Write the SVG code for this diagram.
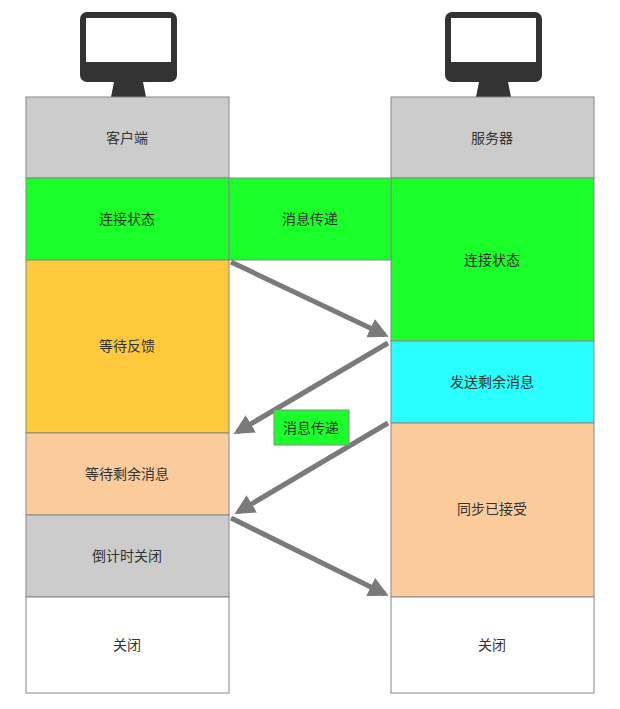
<svg xmlns="http://www.w3.org/2000/svg" width="620" height="709" viewBox="0 0 620 709">
<style>
rect.b{stroke:#888;stroke-width:1}
text{font-family:"Liberation Sans","Noto Sans CJK SC",sans-serif;font-size:14px;fill:#333;text-anchor:middle;dominant-baseline:central}
.ar{stroke:#7a7a7a;stroke-width:5;fill:none;marker-end:url(#m)}
</style>
<defs>
<marker id="m" viewBox="0 0 10 10" refX="8" refY="5" markerWidth="4" markerHeight="4" orient="auto" markerUnits="strokeWidth"><path d="M0,0L10,5L0,10z" fill="#7a7a7a"/></marker>
<g id="mon"><rect x="0" y="0" width="97" height="70" rx="7" fill="#333"/><rect x="6" y="6" width="85" height="44" fill="#fff"/><path d="M34,70H63L66,85H31Z" fill="#333"/></g>
</defs>
<use href="#mon" x="80" y="12"/>
<use href="#mon" x="445" y="12"/>
<g id="client">
<rect class="b" x="26" y="97" width="203" height="81" fill="#cccccc"/><text x="127" y="138">客户端</text>
<rect class="b" x="26" y="178" width="203" height="82" fill="#1aff2a"/><text x="127" y="219">连接状态</text>
<rect class="b" x="26" y="260" width="203" height="173" fill="#ffc83d"/><text x="127" y="346">等待反馈</text>
<rect class="b" x="26" y="433" width="203" height="82" fill="#fbcb9c"/><text x="127" y="474">等待剩余消息</text>
<rect class="b" x="26" y="515" width="203" height="82" fill="#cccccc"/><text x="127" y="556">倒计时关闭</text>
<rect class="b" x="26" y="597" width="203" height="96" fill="#fff"/><text x="127" y="645">关闭</text>
</g>
<g id="server">
<rect class="b" x="391" y="97" width="203" height="81" fill="#cccccc"/><text x="492" y="138">服务器</text>
<rect class="b" x="391" y="178" width="203" height="163" fill="#1aff2a"/><text x="492" y="260">连接状态</text>
<rect class="b" x="391" y="341" width="203" height="82" fill="#2affff"/><text x="492" y="382">发送剩余消息</text>
<rect class="b" x="391" y="423" width="203" height="174" fill="#fbcb9c"/><text x="492" y="509">同步已接受</text>
<rect class="b" x="391" y="597" width="203" height="96" fill="#fff"/><text x="492" y="645">关闭</text>
</g>
<g id="msg1"><rect class="b" x="229" y="178" width="162" height="82" fill="#1aff2a"/><text x="310" y="219">消息传递</text></g>
<g id="connectors">
<path class="ar" d="M231,262L385,335"/>
<path class="ar" d="M388,343L237,432"/>
<path class="ar" d="M388,423L238,512"/>
<path class="ar" d="M231,518L385,594"/>
</g>
<g id="msg2"><rect class="b" x="274" y="410" width="75" height="35" fill="#1aff2a"/><text x="311" y="428">消息传递</text></g>
</svg>
